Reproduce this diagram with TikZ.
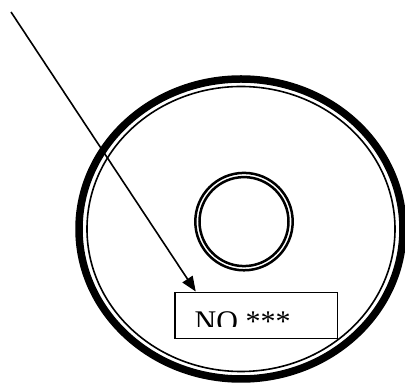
\documentclass[tikz,border=0pt]{standalone}
\usepackage{fontspec}
\setmainfont{Liberation Serif}
\usetikzlibrary{arrows.meta}
\tikzset{
  rimthick/.style={draw, line width=7.5pt},
  rimthin/.style={draw, line width=1.6pt},
  hubring/.style={draw, line width=2.5pt},
  labelbox/.style={draw, line width=1.9pt, minimum width=162.5pt, minimum height=46pt, inner sep=0pt},
  labeltext/.style={anchor=base west, inner sep=0pt, font=\fontsize{30}{36}\selectfont},
  arrow/.style={-{Triangle[length=15pt, width=12pt]}, line width=1.6pt}
}

\begin{document}
\begin{tikzpicture}[x=1pt,y=1pt]
  \useasboundingbox (0,0) rectangle (405,385);
  % disc
  \draw[rimthick] (241,156) ellipse [x radius=162, y radius=150];
  \draw[rimthin] (241,156) ellipse [x radius=154, y radius=142.5];
  % centre hole
  \draw[hubring] (244,163.4) circle [radius=48.7];
  \draw[hubring] (244,163.4) circle [radius=44.5];

  \node[labelbox] (label) at (256.25,69.5) {};
  \begin{scope}
    \clip (label.north west) rectangle (338,58);
    \node[labeltext] (labeltxt) at (194.5,53.4) {NO ***};
  \end{scope}

  \coordinate (start) at (11,373);
  \draw[arrow] (start) -- ([xshift=21.7pt]label.north west);
\end{tikzpicture}
\end{document}
